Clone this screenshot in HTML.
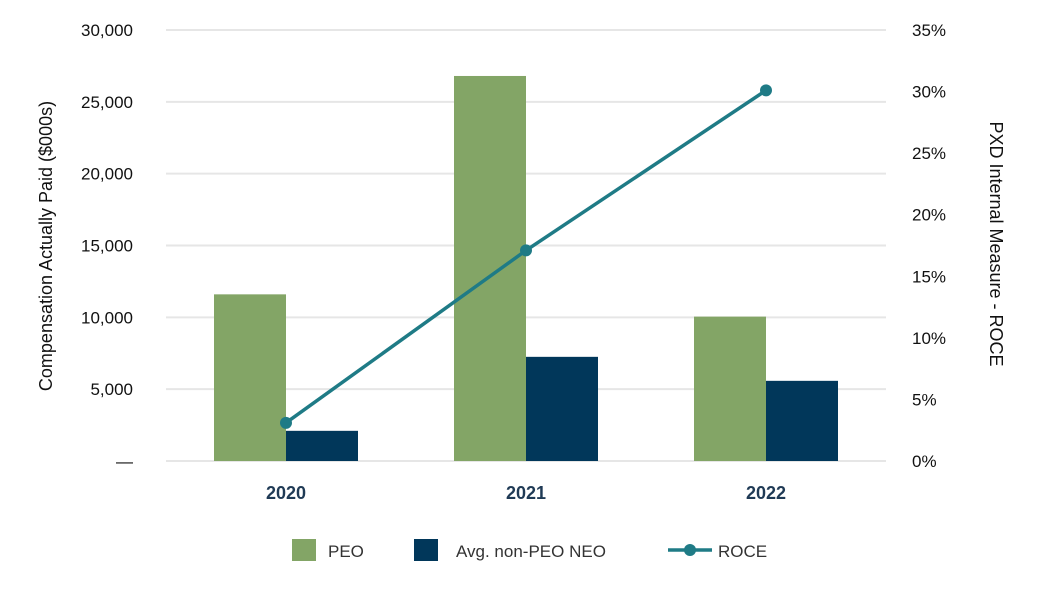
<!DOCTYPE html>
<html><head><meta charset="utf-8"><style>
body{margin:0;background:#fff;}
svg{display:block;font-family:"Liberation Sans","DejaVu Sans",sans-serif;}
</style></head><body>
<svg id="chart" width="1050" height="600"></svg>
<script>
const categories=["2020","2021","2022"];
const peoValues=[11600,26800,10050];
const neoValues=[2100,7250,5580];
const roceValues=[3.1,17.1,30.1];
const leftTicks=[0,5000,10000,15000,20000,25000,30000];
const leftTickLabels=["—","5,000","10,000","15,000","20,000","25,000","30,000"];
const rightTicks=[0,5,10,15,20,25,30,35];

const svg=document.getElementById('chart');
const NS='http://www.w3.org/2000/svg';
const x0=166,x1=886,yTop=30,yBot=461;
const yL=v=>yBot-(v/30000)*(yBot-yTop);
const yR=v=>yBot-(v/35)*(yBot-yTop);
const bandW=(x1-x0)/categories.length;
const xC=i=>x0+bandW*(i+0.5);
const barW=72;
function mk(tag,attrs,text){const e=document.createElementNS(NS,tag);for(const k in attrs)e.setAttribute(k,attrs[k]);if(text!==undefined)e.textContent=text;svg.appendChild(e);return e;}

leftTicks.forEach((t,i)=>{
  const g=mk('line',{x1:x0,x2:x1,y1:yL(t),y2:yL(t),stroke:'#e6e6e6','stroke-width':2});
  
  
  const l=mk('text',{x:133,y:yL(t)+6,'text-anchor':'end','font-size':17,fill:'#111'},leftTickLabels[i]);
  
  
});
rightTicks.forEach(t=>{
  const l=mk('text',{x:912,y:yR(t)+6,'font-size':17,fill:'#111'},t+'%');
  
  
});
categories.forEach((c,i)=>{
  const b1=mk('rect',{x:xC(i)-barW,y:yL(peoValues[i]),width:barW,height:yBot-yL(peoValues[i]),fill:'#83a566'});
  
  
  const b2=mk('rect',{x:xC(i),y:yL(neoValues[i]),width:barW,height:yBot-yL(neoValues[i]),fill:'#01375a'});
  
  
  const t=mk('text',{x:xC(i),y:499,'text-anchor':'middle','font-size':18,'font-weight':'bold',fill:'#1f3a55'},c);
  
  
});
const pl=mk('polyline',{points:roceValues.map((v,i)=>xC(i)+','+yR(v)).join(' '),fill:'none',stroke:'#1f7b86','stroke-width':3.5});


roceValues.forEach((v,i)=>{
  const c=mk('circle',{cx:xC(i),cy:yR(v),r:6,fill:'#1f7b86'});
  
  
});
const ya=mk('text',{transform:'translate(52,246) rotate(-90)','text-anchor':'middle','font-size':18,fill:'#111'},'Compensation Actually Paid ($000s)');


const yb=mk('text',{transform:'translate(990,244) rotate(90)','text-anchor':'middle','font-size':18,fill:'#111'},'PXD Internal Measure - ROCE');



const lg1=mk('rect',{x:292,y:539,width:24,height:22,fill:'#83a566'});


const lt1=mk('text',{x:328,y:557,'font-size':17,fill:'#333'},'PEO');


const lg2=mk('rect',{x:414,y:539,width:24,height:22,fill:'#01375a'});


const lt2=mk('text',{x:456,y:557,'font-size':17,fill:'#333'},'Avg. non-PEO NEO');


const lg3=mk('line',{x1:668,x2:712,y1:550,y2:550,stroke:'#1f7b86','stroke-width':3.5});


const lg4=mk('circle',{cx:690,cy:550,r:6,fill:'#1f7b86'});


const lt3=mk('text',{x:718,y:557,'font-size':17,fill:'#333'},'ROCE');


</script>
</body></html>
